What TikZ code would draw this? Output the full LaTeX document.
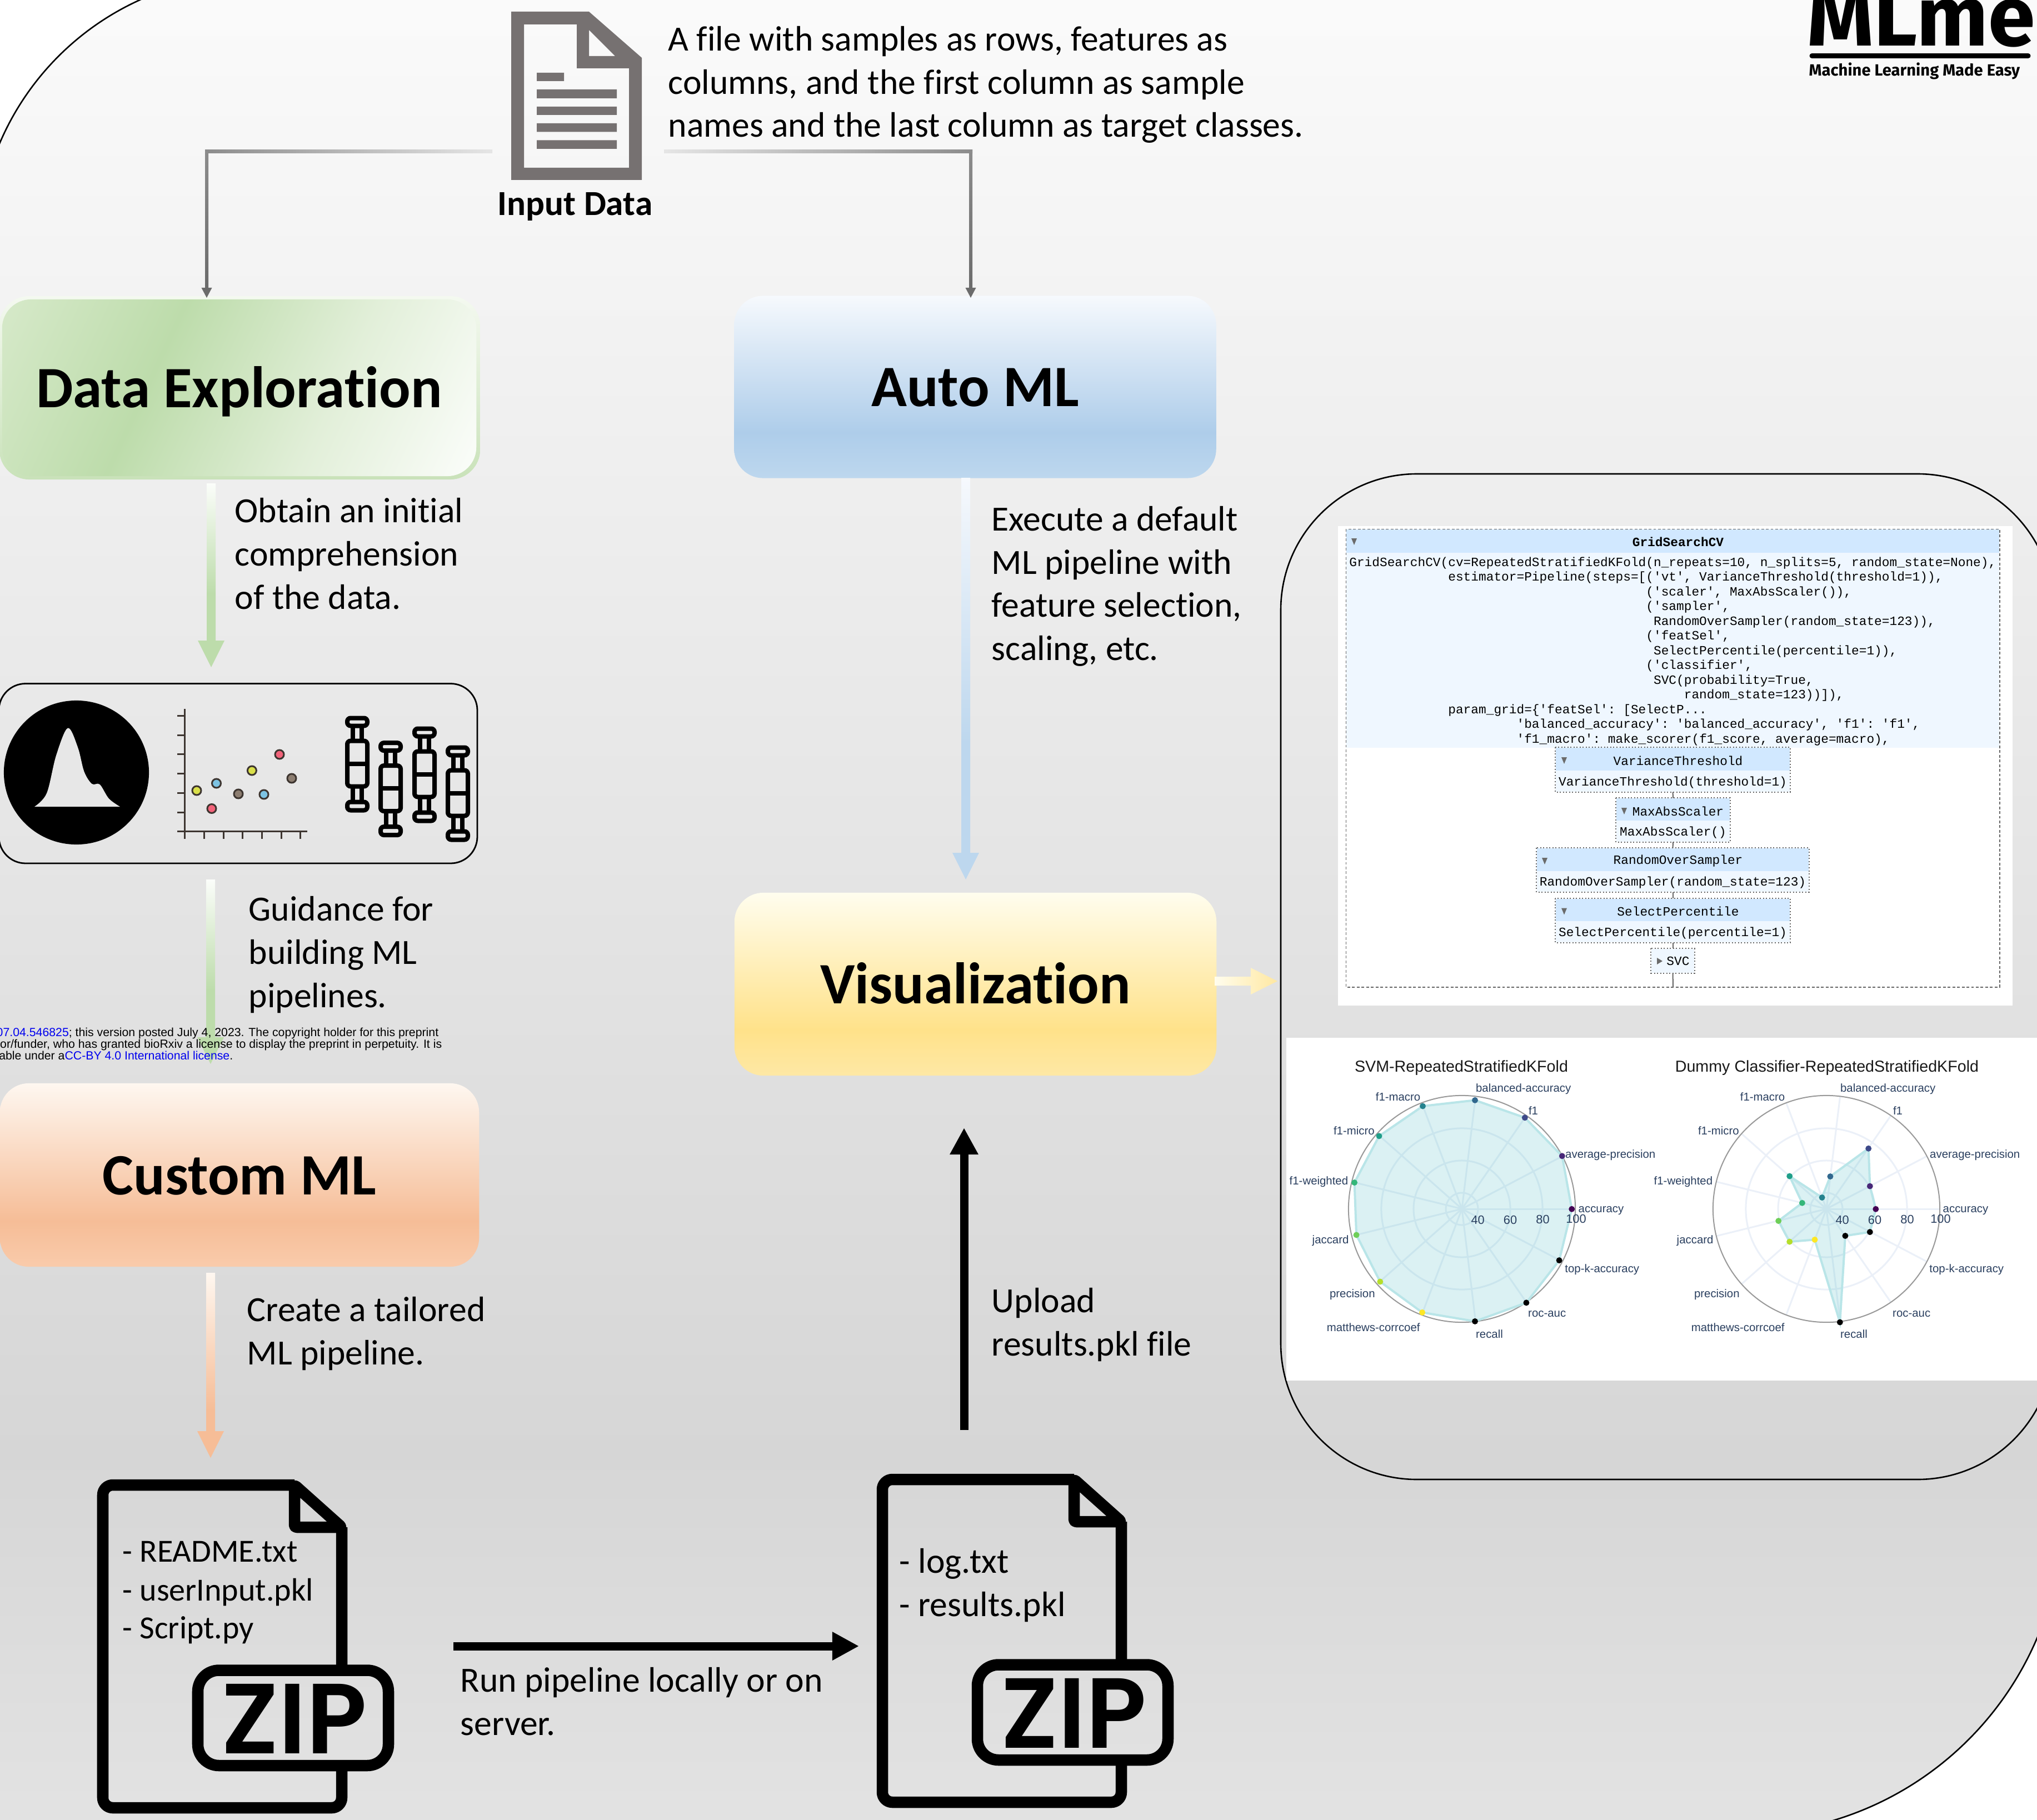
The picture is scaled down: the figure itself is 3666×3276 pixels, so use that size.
\documentclass[tikz,border=0pt]{standalone}
\usepackage{fontspec}
\setmainfont{Carlito}[Ligatures=NoCommon]
\setmonofont{Liberation Mono}
\newfontfamily\arialf{Liberation Sans}
\newfontfamily\logof{Fira Sans}
\newfontfamily\zipf{Poppins SemiBold}
\usetikzlibrary{calc,fit,arrows.meta}
\definecolor{bgA}{HTML}{E3E3E3}\definecolor{bgB}{HTML}{D6D6D6}\definecolor{bgC}{HTML}{FBFBFB}
\definecolor{auA}{HTML}{BDD7EE}\definecolor{auB}{HTML}{AECDEA}\definecolor{auC}{HTML}{F6F9FD}
\definecolor{viA}{HTML}{FEE8A5}\definecolor{viB}{HTML}{FFE28A}\definecolor{viC}{HTML}{FFFDEE}
\definecolor{cuA}{HTML}{F9CBAB}\definecolor{cuB}{HTML}{F6BD97}\definecolor{cuC}{HTML}{FEF7F0}
\definecolor{deA}{HTML}{FBFDFA}\definecolor{deB}{HTML}{BDDCAB}\definecolor{deC}{HTML}{D6E9C9}\definecolor{deD}{HTML}{E2EFD9}
\definecolor{debT}{HTML}{F4F9F0}\definecolor{debB}{HTML}{C9E2B9}
\definecolor{greyicon}{HTML}{767171}
\definecolor{axisbrown}{HTML}{3D3530}
\definecolor{hdrblue}{HTML}{D1E8FF}\definecolor{bodyblue}{HTML}{EFF7FF}
\definecolor{gridc}{HTML}{EBF0F8}\definecolor{plotlab}{HTML}{2A3F5F}
\definecolor{radarfill}{HTML}{2AB0B8}\definecolor{radarline}{HTML}{B9E5E8}
\definecolor{linkblue}{HTML}{0000EE}
\definecolor{zipT}{HTML}{DEDEDE}\definecolor{zipB}{HTML}{E1E1E1}
\pgfdeclareverticalshading{bgshade}{100bp}{color(0bp)=(bgA);color(25bp)=(bgA);color(35.2bp)=(bgB);color(75bp)=(bgC);color(100bp)=(bgC)}
\pgfdeclareverticalshading{aushade}{100bp}{color(0bp)=(auA);color(25bp)=(auA);color(37.5bp)=(auB);color(75bp)=(auC);color(100bp)=(auC)}
\pgfdeclareverticalshading{vishade}{100bp}{color(0bp)=(viA);color(25bp)=(viA);color(37.5bp)=(viB);color(75bp)=(viC);color(100bp)=(viC)}
\pgfdeclareverticalshading{cushade}{100bp}{color(0bp)=(cuA);color(25bp)=(cuA);color(37.5bp)=(cuB);color(75bp)=(cuC);color(100bp)=(cuC)}
\pgfdeclareverticalshading{deshade}{100bp}{color(0bp)=(deA);color(17bp)=(deA);color(38bp)=(deD);color(61bp)=(deB);color(83bp)=(deC);color(100bp)=(deC)}
\pgfdeclareverticalshading{deborder}{100bp}{color(0bp)=(debB);color(25bp)=(debB);color(75bp)=(debT);color(100bp)=(debT)}
\pgfdeclareverticalshading{garrow}{100bp}{color(0bp)=(deB);color(45bp)=(deB);color(75bp)=(deA);color(100bp)=(deA)}
\pgfdeclareverticalshading{aarrow}{100bp}{color(0bp)=(auA);color(42bp)=(auA);color(75bp)=(auC);color(100bp)=(auC)}
\pgfdeclareverticalshading{carrow}{100bp}{color(0bp)=(cuB);color(38bp)=(cuB);color(75bp)=(cuC);color(100bp)=(cuC)}
\newcommand\downarr[3]{%
 \shade[shading=#3] ($(#1)+(-8,0)$) -- ($(#2)+(-8,-48)$) -- ($(#2)+(-24,-48)$) -- (#2) -- ($(#2)+(24,-48)$) -- ($(#2)+(8,-48)$) -- ($(#1)+(8,0)$) -- cycle;}
\newcommand\boxglyph[2]{%
 \begin{scope}[shift={(#1,#2)},line width=.08cm,rounded corners=.06cm]
  \draw (-18,1292.5) rectangle (18,1306.5);
  \draw (-8,1307) -- (-8,1333) (8,1307) -- (8,1333);
  \draw (-18,1333.5) rectangle (18,1415.5);
  \draw (-18,1374.5) -- (18,1374.5);
  \draw (-8,1416) -- (-8,1444) (8,1416) -- (8,1444);
  \draw (-18,1443.5) rectangle (18,1458.5);
 \end{scope}}
\newcommand\zipdoc[3]{%
 \begin{scope}[shift={(#1,#2)},line width=.205cm,line join=round]
  \draw[rounded corners=.18cm] (530,2673) -- (185,2673) -- (185,3254) -- (615,3254) -- (615,2749);
  \draw[rounded corners=.04cm] (530,2673) -- (615,2749) -- (530,2749) -- cycle;
  \draw[rounded corners=.38cm,top color=zipT,bottom color=zipB,draw=black] (356,3006.5) rectangle (699,3178);
  \node[inner sep=0,anchor=base,font=\zipf\fontsize{51}{51}\selectfont] (#3) at (529.5,3156) {ZIP};
 \end{scope}}
\newcommand\estim[9]{%
 \coordinate (#1-a) at (#4,#6);\coordinate (#1-c) at (#5,#8);
 \node[fit=(#1-a)(#1-c),inner sep=0,fill=bodyblue] (#1) {};
 \fill[hdrblue] (#4,#6) rectangle (#5,#7);
 \draw[estborder] (#1.north west) rectangle (#1.south east);
 \fill[triglyph] (#9-5,#6+17) -- (#9+5,#6+17) -- (#9,#6+29) -- cycle;
 \node[codefont] (#1-t) at (3020,#6+23) {#2};
 \node[codefont] (#1-b) at (#1.center |- 0,#8-16) {#3};}
\newcommand\radarlabels[2]{%
 \foreach \i/\dx/\dy/\t in {1/24.4/-217.6/balanced-accuracy,2/119.3/-178.8/f1,3/-155.9/-203.3/f1-macro,4/-231.7/-142.9/f1-micro,5/-311/-51/f1-weighted,6/185.5/-98.8/average-precision,7/209/1.2/accuracy,8/-270/55/jaccard,9/-238.7/151.8/precision,10/-243.9/211.4/matthews-corrcoef,11/24.4/222.9/recall,12/118.5/187/roc-auc,13/184.7/107/top-k-accuracy}
  {\node[radlab,anchor=west] (#2-l\i) at (#1+\dx,2178+\dy) {\t};}
 \foreach \i/\dx/\dy/\t in {1/28.7/18.4/40,2/87/17.6/60,3/145.5/16.7/80,4/205.5/15.5/100}
  {\node[radlab,font=\arialf\fontsize{6.2}{7}\selectfont] (#2-t\i) at (#1+\dx,2178+\dy) {\t};}}
\newcommand\radargrid[1]{%
 \foreach \r in {0.29,0.87,1.45} {\draw[gridc,line width=.03cm] (#1,2176) circle[radius=\r cm];}
 \foreach \i in {0,...,12} {\draw[gridc,line width=.03cm] (#1,2176) -- ++({204*cos(\i*360/13)},{-204*sin(\i*360/13)});}
 \draw[black!40,line width=.02cm] (#1,2176) circle[radius=2.04cm];}
\tikzset{
 lbl/.style={align=left,inner sep=0,anchor=base west,font=\fontsize{18.1}{22.05}\selectfont},
 small lbl/.style={align=left,inner sep=0,anchor=base west,font=\fontsize{16.5}{19.6}\selectfont},
 titlebox/.style={inner sep=0,rounded corners=.52cm,text height=.8cm,text depth=.1cm,font=\bfseries\fontsize{30}{30}\selectfont},
 greyhead/.style={fill=black!58},
 bigarrow/.style={line width=.15cm,-{Triangle[length=.48cm,width=.48cm]}},
 codefont/.style={inner sep=0,font=\ttfamily\fontsize{6.49}{7.53}\selectfont},
 estborder/.style={draw=black!60,line width=.02cm,densely dotted},
 estlink/.style={draw=black!60,line width=.02cm},
 triglyph/.style={fill=black!58},
 radlab/.style={inner sep=0,text=plotlab,font=\arialf\fontsize{5.8}{7}\selectfont},
 radtitle/.style={inner sep=0,text=black!90,font=\arialf\fontsize{8.15}{10}\selectfont},
 prelim/.style={inner sep=0,anchor=base east,font=\arialf\fontsize{6.05}{7}\selectfont},
}
\begin{document}
\begin{tikzpicture}[x=0.01cm,y=-0.01cm]
\useasboundingbox (0,0) rectangle (3666,3276);
\clip (0,0) rectangle (3666,3276);
\fill[white] (0,0) rectangle (3666,3276);
% background
\path[shading=bgshade] (-40,452) .. controls (-40,178) and (182,-44) .. (456,-44) -- (3712,-44) -- (3712,2722) .. controls (3712,3042) and (3453,3301) .. (3133,3301) -- (-40,3301) -- cycle;
\draw[line width=.026cm] (-40,452) .. controls (-40,178) and (182,-44) .. (456,-44) -- (3712,-44) -- (3712,2722) .. controls (3712,3042) and (3453,3301) .. (3133,3301) -- (-40,3301) -- cycle;
% logo
\node[inner sep=0,anchor=base west,text depth=0pt,font=\logof\bfseries\fontsize{43.4}{44}\selectfont] (logo) at (3252,83) {MLme};
\draw[line width=.09cm,line cap=round] (3261,100.5) -- (3650,100.5);
\node[inner sep=0,anchor=base west,font=\logof\fontsize{8.3}{10}\selectfont\bfseries] (logosub) at (3255,137) {Machine Learning Made Easy};
% input file icon
\fill[greyicon,even odd rule] (920,21) -- (1060,21) -- (1155,104) -- (1155,324) -- (920,324) -- cycle
 (943,44) -- (1038,44) -- (1038,123) -- (1132,123) -- (1132,302) -- (943,302) -- cycle
 (1060,54) -- (1107,101) -- (1060,101) -- cycle;
\fill[greyicon] (966,131) rectangle (1015,146) (966,161) rectangle (1110,177) (966,192) rectangle (1110,207) (966,222) rectangle (1110,237.5) (966,252.5) rectangle (1110,268);
\node[inner sep=0,anchor=base,font=\bfseries\fontsize{18}{22}\selectfont] (inputlbl) at (1035,388) {Input Data};
\node[lbl] (inputdesc) at (1202,247) {A file with samples as rows, features as\\columns, and the first column as sample\\names and the last column as target classes.};
% boxes
\node[inner sep=0,rounded corners=.54cm,minimum width=8.65cm,minimum height=3.3cm,shading=deborder] (deb) at (431.5,698) {};
\node[titlebox,minimum width=8.53cm,minimum height=3.18cm,shading=deshade,shading angle=65] (de) at (430.5,698) {Data Exploration};
\node[titlebox,minimum width=8.67cm,minimum height=3.28cm,shading=aushade] (au) at (1755,696.5) {Auto ML};
\node[titlebox,minimum width=8.67cm,minimum height=3.29cm,shading=vishade] (vi) at (1755.5,1771.5) {Visualization};
\node[titlebox,minimum width=8.62cm,minimum height=3.3cm,shading=cushade] (cu) at (431,2115) {Custom ML};
% input connectors
\coordinate (inL) at (886,273);\coordinate (elL) at (372,273);\coordinate (tipL) at (372,536);
\coordinate (inR) at (1195,273);\coordinate (elR) at (1747,273);\coordinate (tipR) at (1747,536);
\shade[left color=black!45,right color=black!10] ($(elL)+(-3,-3)$) rectangle ($(inL)+(0,3)$);
\shade[top color=black!45,bottom color=black!58] ($(elL)+(-3,-3)$) rectangle ($(tipL)+(3,-16)$);
\fill[greyhead] ($(tipL)+(-9.5,-18)$) -- (tipL) -- ($(tipL)+(9.5,-18)$) -- cycle;
\shade[left color=black!10,right color=black!45] ($(inR)+(0,-3)$) rectangle ($(elR)+(3,3)$);
\shade[top color=black!45,bottom color=black!58] ($(elR)+(-3,-3)$) rectangle ($(tipR)+(3,-16)$);
\fill[greyhead] ($(tipR)+(-9.5,-18)$) -- (tipR) -- ($(tipR)+(9.5,-18)$) -- cycle;
% coloured flow arrows
\coordinate (deOut) at (380,870);\coordinate (deTip) at (380,1201);
\downarr{deOut}{deTip}{garrow}
\coordinate (gdOut) at (379,1583);\coordinate (gdTip) at (379,1915);
\downarr{gdOut}{gdTip}{garrow}
\coordinate (cuOut) at (379,2291);\coordinate (cuTip) at (379,2624);
\downarr{cuOut}{cuTip}{carrow}
\coordinate (auOut) at (1738,860);\coordinate (auTip) at (1738,1583);
\downarr{auOut}{auTip}{aarrow}
\coordinate (viOut) at (2186,1766);\coordinate (viTip) at (2299,1766);
\shade[left color=viC,right color=viB!80] ($(viOut)+(0,-8)$) -- ($(viTip)+(-48,-8)$) -- ($(viTip)+(-48,-24)$) -- (viTip) -- ($(viTip)+(-48,24)$) -- ($(viTip)+(-48,8)$) -- ($(viOut)+(0,8)$) -- cycle;
% labels
\node[lbl] (l1) at (422,1096) {Obtain an initial\\comprehension\\of the data.};
\node[lbl] (l2) at (447,1813) {Guidance for\\building ML\\pipelines.};
\node[lbl] (l3) at (444,2456) {Create a tailored\\ML pipeline.};
\node[lbl] (l4) at (1784,1188.5) {Execute a default\\ML pipeline with\\feature selection,\\scaling, etc.};
\node[lbl] (l5) at (1784,2440) {Upload\\results.pkl file};
\node[lbl] (l6) at (828,3123) {Run pipeline locally or on\\server.};
% preprint notice
\node[prelim] (p1) at (790,1865) {\textcolor{linkblue}{07.04.546825}; this version posted July 4, 2023. The copyright holder for this preprint};
\node[prelim] (p2) at (796,1886) {or/funder, who has granted bioRxiv a license to display the preprint in perpetuity. It is};
\node[prelim] (p3) at (420,1907) {able under a\textcolor{linkblue}{CC-BY 4.0 International license}.};
% exploration panel
\draw[line width=.028cm,rounded corners=.48cm] (-2,1230.5) rectangle (859,1554);
\fill (137.5,1390.5) ellipse[x radius=1.305cm,y radius=1.295cm];
\fill[black!9.5] plot[smooth,tension=.55] coordinates {(62,1452) (84,1428) (101,1360) (122,1310.5) (140,1345) (151.5,1389) (165.5,1411) (179.6,1412) (196,1437.5) (216,1452)} -- cycle;
\draw[axisbrown,line width=.03cm] (332,1276) -- (332,1510) (319,1496) -- (553,1496);
\foreach \y in {1288,1323,1357.5,1392,1427,1462} {\draw[axisbrown,line width=.03cm] (319,\y) -- (332,\y);}
\foreach \x in {367,402,436.6,471,506,540} {\draw[axisbrown,line width=.03cm] (\x,1496) -- (\x,1510);}
\definecolor{dy}{HTML}{D9DF4A}\definecolor{db}{HTML}{7DC3E3}\definecolor{dr}{HTML}{F2637A}\definecolor{dg}{HTML}{8C7D70}
\foreach \x/\y/\c in {354/1423/dy,389.5/1410/db,381/1455.5/dr,429/1429/dg,453.4/1387/dy,475/1430/db,503/1358/dr,525/1401/dg}
 {\draw[fill=\c,draw=axisbrown,line width=.03cm] (\x,\y) circle[radius=.08cm];}
\boxglyph{643}{0}\boxglyph{703}{44.6}\boxglyph{764}{19}\boxglyph{824}{53}
% zip documents
\zipdoc{0}{0}{zipa}
\zipdoc{1403}{-10}{zipb}
\node[small lbl] (zt1) at (220,2811) {- README.txt};
\node[small lbl] (zt2) at (220,2881) {- userInput.pkl};
\node[small lbl] (zt3) at (220,2949) {- Script.py};
\node[lbl] (zr) at (1618,2909) {- log.txt\\- results.pkl};
\coordinate (runS) at (816,2963);\coordinate (runE) at (1546,2963);
\draw[bigarrow] (runS) -- (runE);
\coordinate (upS) at (1735,2574);\coordinate (upE) at (1735,2030);
\draw[bigarrow] (upS) -- (upE);
% results panel
\draw[line width=.026cm,rounded corners=2.45cm] (2305,853) rectangle (3696,2663);
\fill[white] (2408,947) rectangle (3622,1810);
% pipeline diagram
\coordinate (gs-a) at (2423,953);\coordinate (gs-c) at (3598,1776);
\node[fit=(gs-a)(gs-c),inner sep=0] (gs) {};
\fill[bodyblue] (2423,953) rectangle (3598,1346);
\fill[hdrblue] (2423,953) rectangle (3598,995);
\draw[draw=black!60,line width=.016cm,dash pattern=on 1.4pt off 1pt] (gs.north west) rectangle (gs.south east);
\fill[triglyph] (2432,969) -- (2442,969) -- (2437,981) -- cycle;
\node[codefont,font=\ttfamily\bfseries\fontsize{6.49}{7.53}\selectfont] (gs-t) at (3020,975) {GridSearchCV};
\newcommand\ind[1]{\hspace*{#1\dimexpr 0.6em\relax}}
\node[codefont,align=left,anchor=north west] (gs-b) at (2427.6,1002) {GridSearchCV(cv=RepeatedStratifiedKFold(n\_repeats=10, n\_splits=5, random\_state=None),\\
\ind{13}estimator=Pipeline(steps={[}('vt', VarianceThreshold(threshold=1)),\\
\ind{39}('scaler', MaxAbsScaler()),\\
\ind{39}('sampler',\\
\ind{40}RandomOverSampler(random\_state=123)),\\
\ind{39}('featSel',\\
\ind{40}SelectPercentile(percentile=1)),\\
\ind{39}('classifier',\\
\ind{40}SVC(probability=True,\\
\ind{44}random\_state=123)){]}),\\
\ind{13}param\_grid=\{'featSel': {[}SelectP...\\
\ind{22}'balanced\_accuracy': 'balanced\_accuracy', 'f1': 'f1',\\
\ind{22}'f1\_macro': make\_scorer(f1\_score, average=macro),};
\estim{vt}{VarianceThreshold}{VarianceThreshold(threshold=1)}{2800}{3221}{1346}{1387}{1425}{2815}
\estim{mas}{MaxAbsScaler}{MaxAbsScaler()}{2909}{3113}{1437}{1477}{1515}{2923}
\estim{ros}{RandomOverSampler}{RandomOverSampler(random\_state=123)}{2766}{3255}{1527}{1568}{1605}{2780}
\estim{sp}{SelectPercentile}{SelectPercentile(percentile=1)}{2800}{3221}{1617.5}{1658}{1696}{2815}
\coordinate (svc-a) at (2972,1708);\coordinate (svc-c) at (3049,1751);
\node[fit=(svc-a)(svc-c),inner sep=0,fill=bodyblue] (svc) {};
\draw[estborder] (svc.north west) rectangle (svc.south east);
\fill[triglyph] (2982,1724) -- (2982,1736) -- (2992,1730) -- cycle;
\node[codefont] (svc-t) at (3020,1730) {SVC};
\coordinate (gsbot) at (3011,1776);
\draw[estlink] (vt.south) -- (mas.north);
\draw[estlink] (mas.south) -- (ros.north);
\draw[estlink] (ros.south) -- (sp.north);
\draw[estlink] (sp.south) -- (svc.north);
\draw[estlink] (svc.south) -- (gsbot);
% radar charts
\fill[white] (2315,1868) rectangle (3666,2484.5);
\node[radtitle] (rt1) at (2630,1922) {SVM-RepeatedStratifiedKFold};
\node[radtitle] (rt2) at (3288,1922) {Dummy Classifier-RepeatedStratifiedKFold};
\radargrid{2631}
\radargrid{3287}
\fill[radarfill,opacity=.17] (2828.7,2176.3) -- (2811.3,2080.8) -- (2744.3,2011.8) -- (2654.5,1980.4) -- (2560.5,1991) -- (2482,2044.9) -- (2437.6,2128.6) -- (2441.1,2222.9) -- (2483.8,2307) -- (2559.6,2362.4) -- (2654.5,2378.4) -- (2746.9,2344.9) -- (2806.1,2268.6) -- cycle;
\draw[radarline,line width=.04cm] (2828.7,2176.3) -- (2811.3,2080.8) -- (2744.3,2011.8) -- (2654.5,1980.4) -- (2560.5,1991) -- (2482,2044.9) -- (2437.6,2128.6) -- (2441.1,2222.9) -- (2483.8,2307) -- (2559.6,2362.4) -- (2654.5,2378.4) -- (2746.9,2344.9) -- (2806.1,2268.6) -- cycle;
\fill[radarfill,opacity=.17] (3375.8,2176.3) -- (3365.3,2135.1) -- (3362.7,2067.3) -- (3293.9,2117.6) -- (3279.1,2155.5) -- (3220.7,2117.1) -- (3243.4,2165.3) -- (3200.7,2197.6) -- (3220.7,2235.1) -- (3266,2231.4) -- (3311.3,2380) -- (3320.9,2224.5) -- (3365.3,2217.6) -- cycle;
\draw[radarline,line width=.04cm] (3375.8,2176.3) -- (3365.3,2135.1) -- (3362.7,2067.3) -- (3293.9,2117.6) -- (3279.1,2155.5) -- (3220.7,2117.1) -- (3243.4,2165.3) -- (3200.7,2197.6) -- (3220.7,2235.1) -- (3266,2231.4) -- (3311.3,2380) -- (3320.9,2224.5) -- (3365.3,2217.6) -- cycle;
\definecolor{v1}{HTML}{440154}\definecolor{v2}{HTML}{482878}\definecolor{v3}{HTML}{3E4989}\definecolor{v4}{HTML}{31688E}\definecolor{v5}{HTML}{26828E}\definecolor{v6}{HTML}{1F9E89}\definecolor{v7}{HTML}{35B779}\definecolor{v8}{HTML}{6ECE58}\definecolor{v9}{HTML}{B5DE2B}\definecolor{v10}{HTML}{FDE725}
\foreach \x/\y/\c in {2828.7/2176.3/v1,2811.3/2080.8/v2,2744.3/2011.8/v3,2654.5/1980.4/v4,2560.5/1991/v5,2482/2044.9/v6,2437.6/2128.6/v7,2441.1/2222.9/v8,2483.8/2307/v9,2559.6/2362.4/v10,2654.5/2378.4/black,2746.9/2344.9/black,2806.1/2268.6/black,
 3375.8/2176.3/v1,3365.3/2135.1/v2,3362.7/2067.3/v3,3293.9/2117.6/v4,3279.1/2155.5/v5,3220.7/2117.1/v6,3243.4/2165.3/v7,3200.7/2197.6/v8,3220.7/2235.1/v9,3266/2231.4/v10,3311.3/2380/black,3320.9/2224.5/black,3365.3/2217.6/black}
 {\fill[\c] (\x,\y) circle[radius=.055cm];}
\radarlabels{2631}{ra}
\radarlabels{3287}{rb}
\end{tikzpicture}
\end{document}
